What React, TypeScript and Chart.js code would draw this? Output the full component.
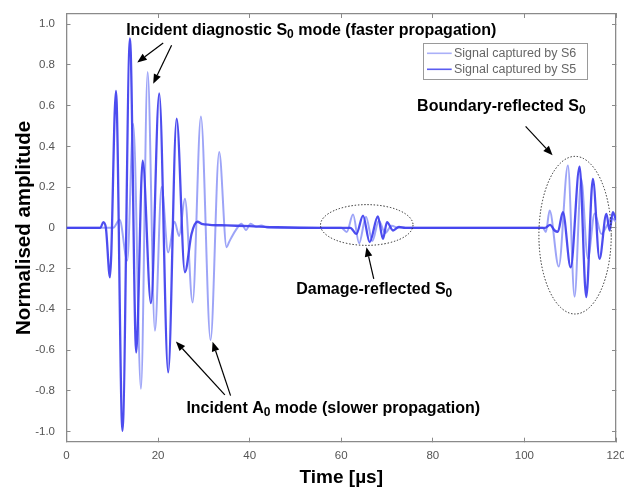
import React, { useEffect, useRef } from 'react';
import { Chart, registerables } from 'chart.js';

Chart.register(...registerables);

// ---- Data ----
const SERIES_LABELS = ['Signal captured by S6', 'Signal captured by S5'];

// Signal captured by S6 (light blue)
const S6_TIME = [
  0, 10.2, 11.6, 13.27, 14.58, 16.26, 17.72, 19.31, 20.77, 22.2, 23.6, 24.6, 25.86, 27.54,
  29.35, 31.46, 33.34, 34.96, 35.5, 36.05, 37.0, 38.2, 39.2, 40.2, 41.4, 42.5, 44, 50, 60,
  61.2, 62.58, 63.9, 65.4, 66.8, 68.2, 69.6, 71.0, 72.5, 80, 90, 100, 104.0, 104.7, 105.5,
  107.5, 109.5, 110.95, 112.4, 113.85, 115.35, 116.8, 118.0, 119.0, 120,
];
const S6_AMP = [
  0, 0, 0.04, -0.16, 0.51, -0.79, 0.765, -0.505, 0.2, -0.12, 0.03, -0.04, 0.143, -0.366,
  0.547, -0.551, 0.372, -0.095, -0.07, -0.046, -0.01, 0.02, -0.01, 0.02, 0.005, 0.012, 0, 0, 0,
  -0.02, 0.065, -0.076, 0.055, -0.065, 0.035, -0.025, 0.01, 0, 0, 0, 0, 0, -0.02, 0.085,
  -0.19, 0.306, -0.338, 0.24, -0.15, 0.07, -0.03, 0.01, 0.05, 0.03,
];

// Signal captured by S5 (dark blue)
const S5_TIME = [
  0, 7.4, 8.03, 8.6, 9.49, 10.8, 12.22, 13.86, 15.23, 16.63, 18.44, 20.25, 22.21, 24.05,
  25.86, 27.3, 28.6, 29.5, 31.3, 35, 40, 46, 55, 62.0, 63.3, 64.76, 66.2, 68.0, 69.1, 70.0,
  71.3, 72.6, 74, 80, 90, 100, 104.5, 105.6, 106.6, 107.3, 108.4, 110.1, 112.05, 113.5,
  114.95, 116.4, 117.9, 118.6, 119.3, 120,
];
const S5_AMP = [
  0, 0, 0.028, 0, -0.243, 0.672, -0.997, 0.93, -0.612, 0.33, -0.37, 0.66, -0.71, 0.536,
  -0.218, -0.03, 0.03, 0.02, 0.015, 0.012, 0.008, 0.003, 0, 0, -0.03, 0.06, -0.07, 0.056,
  -0.054, 0.028, -0.013, 0.005, 0, 0, 0, 0, 0, 0.015, -0.013, -0.02, 0.077, -0.194, 0.3,
  -0.34, 0.24, -0.152, 0.069, -0.013, 0.077, 0.04,
];

const X_TICKS = [0, 20, 40, 60, 80, 100, 120];
const Y_TICKS = [-1.0, -0.8, -0.6, -0.4, -0.2, 0, 0.2, 0.4, 0.6, 0.8, 1.0];

// ---- Annotations (text, arrows, dotted ellipses) in data coordinates ----
const NOTE_TEXTS = [
  { parts: ['Incident diagnostic S', '0', ' mode (faster propagation)'], t: 53.46, a: 0.949 },
  { parts: ['Incident A', '0', ' mode (slower propagation)'], t: 58.26, a: -0.907 },
  { parts: ['Damage-reflected S', '0', ''], t: 67.2, a: -0.323 },
  { parts: ['Boundary-reflected S', '0', ''], t: 94.96, a: 0.572 },
];
const NOTE_ARROWS = [
  { from: [21.12, 0.908], to: [15.45, 0.812] },
  { from: [22.95, 0.897], to: [18.94, 0.708] },
  { from: [34.58, -0.82], to: [23.89, -0.558] },
  { from: [35.83, -0.824], to: [31.9, -0.559] },
  { from: [67.1, -0.251], to: [65.5, -0.095] },
  { from: [100.26, 0.498], to: [106.15, 0.356] },
];
const NOTE_ELLIPSES = [
  { t: 65.57, a: 0.014, rt: 10.1, ra: 0.1 },
  { t: 111.06, a: -0.036, rt: 7.9, ra: 0.387 },
];

const FONT = '"Liberation Sans", Arial, Helvetica, sans-serif';
const FRAME = '#8a8a8a';
const S6_COLOR = 'rgba(140, 148, 246, 0.85)';
const S5_COLOR = 'rgba(62, 62, 238, 0.92)';

function drawRich(ctx: any, parts: string[], cx: number, by: number) {
  const mainFont = `bold 16px ${FONT}`;
  const subFont = `bold 12px ${FONT}`;
  ctx.font = mainFont;
  const w0 = ctx.measureText(parts[0]).width;
  const w2 = ctx.measureText(parts[2]).width;
  ctx.font = subFont;
  const w1 = ctx.measureText(parts[1]).width;
  const total = w0 + w1 + w2;
  let x = cx - total / 2;
  ctx.fillStyle = '#000';
  ctx.textBaseline = 'alphabetic';
  ctx.textAlign = 'left';
  ctx.font = mainFont;
  ctx.fillText(parts[0], x, by);
  x += w0;
  ctx.font = subFont;
  ctx.fillText(parts[1], x, by + 3);
  x += w1;
  ctx.font = mainFont;
  ctx.fillText(parts[2], x, by);
}

const notesPlugin = {
  id: 'notes',
  afterDatasetsDraw(chart: any) {
    const ctx = chart.ctx;
    const xs = chart.scales.x;
    const ys = chart.scales.y;
    const X = (t: number) => xs.getPixelForValue(t);
    const Y = (a: number) => ys.getPixelForValue(a);
    ctx.save();

    // dotted ellipses
    ctx.strokeStyle = '#222';
    ctx.lineWidth = 1;
    ctx.setLineDash([1.4, 1.8]);
    NOTE_ELLIPSES.forEach((e) => {
      const cx = X(e.t);
      const cy = Y(e.a);
      const rx = Math.abs(X(e.t + e.rt) - cx);
      const ry = Math.abs(Y(e.a + e.ra) - cy);
      ctx.beginPath();
      ctx.ellipse(cx, cy, rx, ry, 0, 0, Math.PI * 2);
      ctx.stroke();
    });
    ctx.setLineDash([]);

    // arrows
    ctx.strokeStyle = '#000';
    ctx.fillStyle = '#000';
    ctx.lineWidth = 1.2;
    NOTE_ARROWS.forEach((ar) => {
      const x1 = X(ar.from[0]);
      const y1 = Y(ar.from[1]);
      const x2 = X(ar.to[0]);
      const y2 = Y(ar.to[1]);
      const ang = Math.atan2(y2 - y1, x2 - x1);
      const hl = 9.5;
      const hw = 3.8;
      const bx = x2 - hl * Math.cos(ang);
      const by = y2 - hl * Math.sin(ang);
      ctx.beginPath();
      ctx.moveTo(x1, y1);
      ctx.lineTo(bx, by);
      ctx.stroke();
      ctx.beginPath();
      ctx.moveTo(x2, y2);
      ctx.lineTo(bx + hw * Math.sin(ang), by - hw * Math.cos(ang));
      ctx.lineTo(bx - hw * Math.sin(ang), by + hw * Math.cos(ang));
      ctx.closePath();
      ctx.fill();
    });

    // texts
    NOTE_TEXTS.forEach((n) => drawRich(ctx, n.parts, X(n.t), Y(n.a)));

    // legend box
    const ca = chart.chartArea;
    const bl = ca.right - 193.3;
    const bt = ca.top + 28.7;
    const bw = 164;
    const bh = 36.3;
    ctx.fillStyle = '#fff';
    ctx.fillRect(bl, bt, bw, bh);
    ctx.strokeStyle = '#9a9a9a';
    ctx.lineWidth = 1;
    ctx.strokeRect(Math.round(bl) + 0.5, Math.round(bt) + 0.5, Math.round(bw), Math.round(bh));
    const colors = ['#aab0f8', '#5a5cf0'];
    ctx.font = `12.5px ${FONT}`;
    ctx.textBaseline = 'middle';
    ctx.textAlign = 'left';
    chart.data.datasets.forEach((ds: any, i: number) => {
      const ly = bt + 10.6 + i * 16;
      ctx.strokeStyle = colors[i];
      ctx.lineWidth = 1.6;
      ctx.beginPath();
      ctx.moveTo(bl + 4.3, ly);
      ctx.lineTo(bl + 29, ly);
      ctx.stroke();
      ctx.fillStyle = '#666';
      ctx.fillText(ds.label, bl + 31.3, ly);
    });
    ctx.restore();
  },
};

function toPoints(ts: number[], as: number[]) {
  return ts.map((t, i) => ({ x: t, y: as[i] }));
}

const gridOpts = {
  drawOnChartArea: false,
  drawTicks: true,
  tickLength: -4,
  color: FRAME,
  lineWidth: 1,
};
const borderOpts = { display: true, color: FRAME, width: 1.3 };

export default function App() {
  const ref = useRef<HTMLCanvasElement | null>(null);

  useEffect(() => {
    if (!ref.current) return;
    const chart = new Chart(ref.current, {
      type: 'line',
      data: {
        datasets: [
          {
            label: SERIES_LABELS[0],
            data: toPoints(S6_TIME, S6_AMP),
            borderColor: S6_COLOR,
            borderWidth: 2,
            pointRadius: 0,
            cubicInterpolationMode: 'monotone',
            fill: false,
            order: 2,
          },
          {
            label: SERIES_LABELS[1],
            data: toPoints(S5_TIME, S5_AMP),
            borderColor: S5_COLOR,
            borderWidth: 2.3,
            pointRadius: 0,
            cubicInterpolationMode: 'monotone',
            fill: false,
            order: 1,
          },
        ],
      },
      options: {
        responsive: false,
        animation: false,
        layout: { padding: 0 },
        plugins: { legend: { display: false }, tooltip: { enabled: false } },
        scales: {
          x: {
            type: 'linear',
            position: 'bottom',
            min: 0,
            max: 120,
            afterBuildTicks: (s: any) => {
              s.ticks = X_TICKS.map((v) => ({ value: v }));
            },
            afterFit: (s: any) => {
              s.height = 45.3;
              s.paddingLeft = 0;
              s.paddingRight = 0;
            },
            grid: gridOpts,
            border: borderOpts,
            ticks: {
              font: { family: FONT, size: 11.5 },
              color: '#555',
              padding: 11.4,
              maxRotation: 0,
              callback: (v: any) => String(v),
            },
            title: {
              display: true,
              text: 'Time [µs]',
              color: '#000',
              font: { family: FONT, size: 19, weight: 'bold', lineHeight: 1 },
              padding: { top: 0, bottom: 0 },
            },
          },
          x2: {
            type: 'linear',
            position: 'top',
            min: 0,
            max: 120,
            afterBuildTicks: (s: any) => {
              s.ticks = X_TICKS.map((v) => ({ value: v }));
            },
            afterFit: (s: any) => {
              s.height = 14;
              s.paddingLeft = 0;
              s.paddingRight = 0;
            },
            grid: gridOpts,
            border: borderOpts,
            ticks: { display: false },
          },
          y: {
            type: 'linear',
            position: 'left',
            min: -1.05,
            max: 1.05,
            afterBuildTicks: (s: any) => {
              s.ticks = Y_TICKS.map((v) => ({ value: v }));
            },
            afterFit: (s: any) => {
              s.width = 66.5;
              s.paddingTop = 0;
              s.paddingBottom = 0;
            },
            grid: gridOpts,
            border: borderOpts,
            ticks: {
              font: { family: FONT, size: 11.5 },
              color: '#555',
              padding: 15.5,
              callback: (v: any) => (Math.abs(v) < 1e-9 ? '0' : Number(v).toFixed(1)),
            },
            title: {
              display: true,
              text: 'Normalised amplitude',
              color: '#000',
              font: { family: FONT, size: 20.5, weight: 'bold', lineHeight: 1 },
              padding: { top: 13.75, bottom: 0 },
            },
          },
          y2: {
            type: 'linear',
            position: 'right',
            min: -1.05,
            max: 1.05,
            afterBuildTicks: (s: any) => {
              s.ticks = Y_TICKS.map((v) => ({ value: v }));
            },
            afterFit: (s: any) => {
              s.width = 8;
              s.paddingTop = 0;
              s.paddingBottom = 0;
            },
            grid: gridOpts,
            border: borderOpts,
            ticks: { display: false },
          },
        },
      } as any,
      plugins: [notesPlugin],
    });
    return () => chart.destroy();
  }, []);

  return (
    <div style={{ position: 'fixed', left: 0, top: 0, width: 624, height: 487, background: '#fff' }}>
      <canvas ref={ref} width={624} height={487} style={{ display: 'block' }} />
    </div>
  );
}
